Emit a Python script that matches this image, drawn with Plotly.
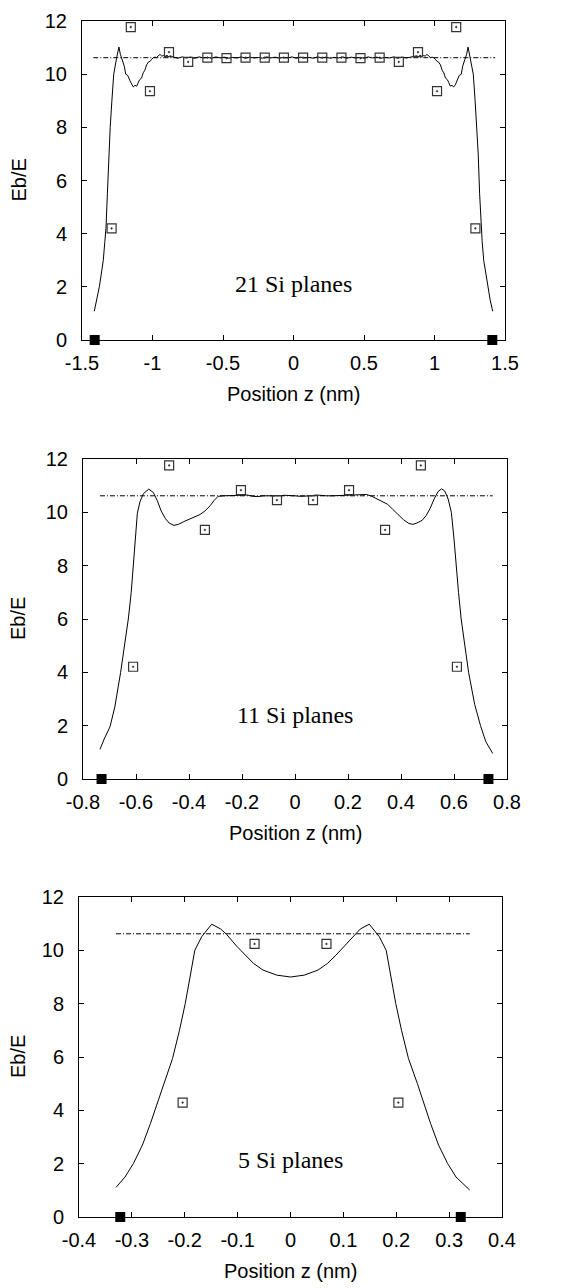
import plotly.graph_objects as go

# ---------------- data ----------------
# Panel 1: 21 Si planes
z21_curve = [-1.413, -1.395, -1.377, -1.36, -1.349, -1.338, -1.33, -1.32, -1.31, -1.30, -1.288, -1.275,
             -1.255, -1.238, -1.228, -1.215, -1.20, -1.19, -1.175, -1.16, -1.148, -1.136, -1.124, -1.112,
             -1.10, -1.09, -1.078, -1.066, -1.054, -1.042, -1.03, -1.018, -1.006, -0.994, -0.982, -0.97,
             -0.958, -0.946, -0.934, -0.922, -0.91, -0.898, -0.886, -0.874,
             -0.85, -0.82, -0.79, -0.76, -0.73, -0.70, -0.67, -0.64, -0.61, -0.58, -0.55, -0.52, -0.49,
             -0.46, -0.43, -0.40, -0.37, -0.34, -0.31, -0.28, -0.25, -0.22, -0.19, -0.16, -0.13, -0.10,
             -0.07, -0.04, -0.01, 0.02, 0.05, 0.08, 0.11, 0.14, 0.17, 0.20, 0.23, 0.26, 0.29, 0.32, 0.35,
             0.38, 0.41, 0.44, 0.47, 0.50, 0.53, 0.56, 0.59, 0.62, 0.65, 0.68, 0.71, 0.74, 0.77, 0.80, 0.83,
             0.874, 0.886, 0.898, 0.91, 0.922, 0.934, 0.946, 0.958, 0.97, 0.982, 0.994, 1.006, 1.018, 1.03,
             1.042, 1.054, 1.066, 1.078, 1.09, 1.10, 1.112, 1.124, 1.136, 1.148, 1.16, 1.175, 1.19, 1.20,
             1.215, 1.228, 1.238, 1.255, 1.275, 1.288, 1.30, 1.31, 1.32, 1.33, 1.338, 1.349, 1.36, 1.377,
             1.395, 1.413]
eb21_curve = [1.08, 1.5, 2.0, 2.6, 3.0, 3.7, 4.2, 5.5, 7.0, 8.0, 9.0, 10.0,
              10.6, 11.02, 10.75, 10.55, 10.3, 10.0, 9.95, 9.75, 9.6, 9.52, 9.58, 9.55,
              9.7, 9.8, 9.85, 10.05, 10.15, 10.35, 10.45, 10.48, 10.56, 10.62, 10.64, 10.62,
              10.7, 10.74, 10.68, 10.7, 10.67, 10.71, 10.66, 10.69,
              10.64, 10.6, 10.65, 10.61, 10.64, 10.6, 10.65, 10.61, 10.63, 10.6, 10.65, 10.61, 10.64,
              10.6, 10.63, 10.61, 10.65, 10.6, 10.64, 10.61, 10.63, 10.6, 10.65, 10.61, 10.64, 10.6,
              10.63, 10.61, 10.65, 10.6, 10.64, 10.61, 10.63, 10.6, 10.65, 10.61, 10.64, 10.6, 10.63, 10.61,
              10.65, 10.6, 10.64, 10.61, 10.63, 10.6, 10.65, 10.61, 10.64, 10.6, 10.63, 10.61, 10.65, 10.6,
              10.64, 10.61, 10.64,
              10.69, 10.66, 10.71, 10.67, 10.7, 10.68, 10.74, 10.7, 10.62, 10.64, 10.62, 10.56, 10.48, 10.45,
              10.35, 10.15, 10.05, 9.85, 9.8, 9.7, 9.55, 9.58, 9.52, 9.6, 9.75, 9.95, 10.0, 10.3,
              10.55, 10.75, 11.02, 10.6, 10.0, 9.0, 8.0, 7.0, 5.5, 4.2, 3.7, 3.0, 2.6, 2.0,
              1.5, 1.08]
z21_pts = [-1.290, -1.154, -1.018, -0.883, -0.747, -0.611, -0.475, -0.340, -0.204, -0.068,
           0.068, 0.204, 0.340, 0.475, 0.611, 0.747, 0.883, 1.018, 1.154, 1.290]
eb21_pts = [4.2, 11.77, 9.36, 10.83, 10.46, 10.62, 10.6, 10.62, 10.62, 10.62,
            10.62, 10.62, 10.62, 10.6, 10.62, 10.46, 10.83, 9.36, 11.77, 4.2]
z21_edge = [-1.41, 1.41]
z21_bulk = [-1.42, 1.43]

# Panel 2: 11 Si planes
z11_curve = [-0.736, -0.72, -0.698, -0.68, -0.658, -0.643, -0.629, -0.618, -0.61, -0.602, -0.595,
             -0.585, -0.572, -0.552, -0.535, -0.52, -0.505, -0.49, -0.475, -0.457, -0.44, -0.42, -0.40,
             -0.38, -0.358, -0.34, -0.32, -0.305, -0.29, -0.27, -0.25, -0.22, -0.20, -0.18, -0.16, -0.14,
             -0.12, -0.10, -0.08, -0.06, -0.04, -0.02, 0.0, 0.02, 0.04, 0.06, 0.08, 0.10, 0.12, 0.14, 0.16,
             0.18, 0.20, 0.22, 0.25, 0.27, 0.29, 0.31, 0.33, 0.35, 0.37, 0.39, 0.41, 0.43, 0.445, 0.46,
             0.48, 0.495, 0.51, 0.525, 0.54, 0.553, 0.565, 0.578, 0.59, 0.60, 0.608, 0.617, 0.627, 0.64,
             0.655, 0.678, 0.70, 0.72, 0.746]
eb11_curve = [1.11, 1.5, 1.96, 2.7, 4.0, 5.0, 6.0, 7.0, 8.0, 9.0, 9.96,
              10.4, 10.7, 10.87, 10.75, 10.45, 10.05, 9.78, 9.6, 9.51, 9.55, 9.65, 9.74,
              9.83, 9.92, 10.05, 10.25, 10.45, 10.6, 10.62, 10.63, 10.64, 10.66, 10.65, 10.6, 10.59,
              10.62, 10.62, 10.6, 10.62, 10.64, 10.64, 10.62, 10.6, 10.6, 10.62, 10.65, 10.63, 10.62, 10.62, 10.63,
              10.65, 10.64, 10.67, 10.68, 10.67, 10.6, 10.5, 10.4, 10.3, 10.1, 9.9, 9.72, 9.58, 9.55, 9.6,
              9.7, 9.88, 10.15, 10.5, 10.78, 10.88, 10.8, 10.5, 10.0, 9.0, 8.0, 7.0, 6.0, 5.0,
              4.0, 2.8, 2.0, 1.4, 0.96]
z11_pts = [-0.611, -0.475, -0.340, -0.204, -0.068, 0.068, 0.204, 0.340, 0.475, 0.611]
eb11_pts = [4.21, 11.76, 9.34, 10.83, 10.46, 10.46, 10.83, 9.34, 11.76, 4.21]
z11_edge = [-0.73, 0.73]
z11_bulk = [-0.736, 0.746]

# Panel 3: 5 Si planes
z5_curve = [-0.33, -0.313, -0.297, -0.28, -0.265, -0.256, -0.24, -0.223, -0.21, -0.199, -0.19, -0.181,
            -0.168, -0.149, -0.132, -0.121, -0.102, -0.086, -0.07, -0.052, -0.026, 0.0,
            0.026, 0.052, 0.07, 0.086, 0.102, 0.121, 0.132, 0.149, 0.168, 0.181, 0.19, 0.199, 0.21,
            0.223, 0.24, 0.256, 0.265, 0.28, 0.297, 0.313, 0.339]
eb5_curve = [1.11, 1.5, 2.01, 2.7, 3.5, 4.01, 5.0, 5.95, 7.0, 8.01, 9.0, 10.0,
             10.51, 10.98, 10.8, 10.6, 10.16, 9.82, 9.51, 9.26, 9.07, 9.0,
             9.07, 9.26, 9.51, 9.82, 10.16, 10.6, 10.8, 10.98, 10.51, 10.0, 9.0, 8.01, 7.0,
             5.95, 5.0, 4.01, 3.5, 2.7, 2.01, 1.5, 1.01]
z5_pts = [-0.204, -0.068, 0.068, 0.204]
eb5_pts = [4.29, 10.24, 10.24, 4.29]
z5_edge = [-0.322, 0.322]
z5_bulk = [-0.33, 0.339]

bulk_level = 10.62

panel_labels = ["21 Si planes", "11 Si planes", "5 Si planes"]
label_y = [2.1, 2.4, 2.14]
x_ranges = [[-1.5, 1.5], [-0.8, 0.8], [-0.4, 0.4]]
x_tickvals = [[-1.5, -1, -0.5, 0, 0.5, 1, 1.5],
              [-0.8, -0.6, -0.4, -0.2, 0, 0.2, 0.4, 0.6, 0.8],
              [-0.4, -0.3, -0.2, -0.1, 0, 0.1, 0.2, 0.3, 0.4]]
x_ticktext = [["-1.5", "-1", "-0.5", "0", "0.5", "1", "1.5"],
              ["-0.8", "-0.6", "-0.4", "-0.2", "0", "0.2", "0.4", "0.6", "0.8"],
              ["-0.4", "-0.3", "-0.2", "-0.1", "0", "0.1", "0.2", "0.3", "0.4"]]
y_tickvals = [0, 2, 4, 6, 8, 10, 12]
y_ticktext = ["0", "2", "4", "6", "8", "10", "12"]

# ---------------- figure ----------------
# the page body has an 8px default margin, so the figure is drawn 8px in from the window edge
OFF = 8
W, H = 576 - OFF, 1288 - OFF
# plot-area pixel boxes in window coordinates (left, right, top, bottom)
boxes = [(82, 505, 21, 340), (83, 507, 459, 779), (79, 502, 897, 1217)]

panels = [
    (z21_curve, eb21_curve, z21_pts, eb21_pts, z21_edge, z21_bulk),
    (z11_curve, eb11_curve, z11_pts, eb11_pts, z11_edge, z11_bulk),
    (z5_curve, eb5_curve, z5_pts, eb5_pts, z5_edge, z5_bulk),
]

fig = go.Figure()
tick_font = dict(family="Liberation Sans, Arial, sans-serif", size=20, color="black")

for i, (zc, ec, zp, ep, ze, zb) in enumerate(panels):
    n = "" if i == 0 else str(i + 1)
    xa, ya = "x" + n, "y" + n
    fig.add_trace(go.Scatter(x=zb, y=[bulk_level, bulk_level], mode="lines", xaxis=xa, yaxis=ya,
                             line=dict(color="black", width=1, dash="5px,2px,1px,2px"),
                             showlegend=False, hoverinfo="skip"))
    fig.add_trace(go.Scatter(x=zc, y=ec, mode="lines", xaxis=xa, yaxis=ya,
                             line=dict(color="black", width=1), showlegend=False))
    fig.add_trace(go.Scatter(x=zp, y=ep, mode="markers", xaxis=xa, yaxis=ya,
                             marker=dict(symbol="square-open-dot", size=9, color="#333333",
                                         line=dict(color="#333333", width=1.2)),
                             showlegend=False, cliponaxis=False))
    fig.add_trace(go.Scatter(x=ze, y=[0, 0], mode="markers", xaxis=xa, yaxis=ya,
                             marker=dict(symbol="square", size=10, color="black"),
                             showlegend=False, cliponaxis=False))

    l, r, t, b = boxes[i]
    xdom = [(l - OFF) / W, (r - OFF) / W]
    ydom = [1 - (b - OFF) / H, 1 - (t - OFF) / H]
    xkey = "xaxis" + n
    ykey = "yaxis" + n
    fig.update_layout(**{
        xkey: dict(domain=xdom, range=x_ranges[i], anchor=ya, tickmode="array",
                   tickvals=x_tickvals[i], ticktext=x_ticktext[i], ticks="inside", ticklen=5,
                   tickwidth=1, tickcolor="black", showline=True, linecolor="black", linewidth=1,
                   mirror="ticks", showgrid=False, zeroline=False, tickfont=tick_font,
                   ticklabelstandoff=5, automargin=False),
        ykey: dict(domain=ydom, range=[0, 12], anchor=xa, tickmode="array",
                   tickvals=y_tickvals, ticktext=y_ticktext, ticks="inside", ticklen=5,
                   tickwidth=1, tickcolor="black", showline=True, linecolor="black", linewidth=1,
                   mirror="ticks", showgrid=False, zeroline=False, tickfont=tick_font,
                   ticklabelstandoff=10, automargin=False),
    })
    fig.add_annotation(text="Position z (nm)", xref=xa + " domain", yref=ya + " domain",
                       x=0.5, y=0, yshift=-54, showarrow=False, xanchor="center", yanchor="middle",
                       font=dict(family="Liberation Sans, Arial, sans-serif", size=20, color="black"))
    fig.add_annotation(text="Eb/E", xref=xa + " domain", yref=ya + " domain",
                       x=0, y=0.5, xshift=-(l - 18), showarrow=False, textangle=-90,
                       xanchor="center", yanchor="middle",
                       font=dict(family="Liberation Sans, Arial, sans-serif", size=20, color="black"))
    fig.add_annotation(text=panel_labels[i], xref=xa, yref=ya, x=0, y=label_y[i], showarrow=False,
                       xanchor="center", yanchor="middle",
                       font=dict(family="Liberation Serif, Times New Roman, serif", size=24, color="black"))

fig.update_layout(width=W, height=H, margin=dict(l=0, r=0, t=0, b=0, autoexpand=False),
                  paper_bgcolor="white", plot_bgcolor="white", showlegend=False)

fig.write_html("out.html")
